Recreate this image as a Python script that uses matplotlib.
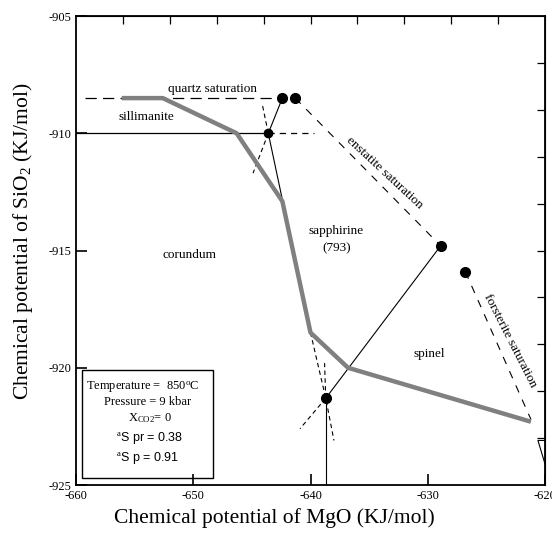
import matplotlib
matplotlib.use("Agg")
import matplotlib.pyplot as plt
from matplotlib.patches import Rectangle

plt.rcParams['font.family'] = ['Liberation Serif', 'DejaVu Serif']
plt.rcParams['mathtext.fontset'] = 'custom'
plt.rcParams['mathtext.rm'] = 'Liberation Serif'
plt.rcParams['mathtext.it'] = 'Liberation Serif:italic'
plt.rcParams['axes.unicode_minus'] = False

# grey reaction path (sapphirine field boundary)
grey_x = [-656.1, -652.6, -646.3, -642.4, -640.0, -636.8, -621.2]
grey_y = [-908.5, -908.5, -910.0, -912.9, -918.5, -920.0, -922.3]

# invariant points
pts_x = [-642.4, -641.3, -628.9, -626.8, -638.7]
pts_y = [-908.5, -908.5, -914.8, -915.9, -921.3]
open_x = -643.6
open_y = -910.0

# saturation lines
quartz_x = [-659.2, -642.4]
quartz_y = [-908.5, -908.5]
sill_x = [-660.0, -643.6]
sill_y = [-910.0, -910.0]
sill_dash_x = [-643.6, -639.7]
sill_dash_y = [-910.0, -910.0]
enst_x = [-641.3, -628.9]
enst_y = [-908.5, -914.8]
fors_x = [-626.8, -621.2]
fors_y = [-915.9, -922.2]

# thin solid reaction lines
solid_segs = [
    ([-643.6, -642.4], [-910.0, -908.5]),
    ([-643.6, -640.0], [-910.0, -918.5]),
    ([-638.7, -628.9], [-921.3, -914.8]),
    ([-638.7, -638.7], [-925.0, -921.3]),
    ([-620.0, -620.6, -620.0], [-923.1, -923.1, -924.1]),
]
# thin dashed (metastable) extensions
dash_segs = [
    ([-640.0, -638.7, -638.0], [-918.5, -921.3, -923.1]),
    ([-643.6, -644.1], [-910.0, -908.8]),
    ([-643.6, -644.9], [-910.0, -911.7]),
    ([-638.7, -640.9], [-921.3, -922.6]),
    ([-638.7, -638.8], [-921.3, -919.8]),
]

fig = plt.figure(figsize=(5.52, 5.36), dpi=100)
ax = fig.add_axes([0.1377, 0.0951, 0.8496, 0.875])

ax.plot(quartz_x, quartz_y, color='black', lw=0.9, dashes=(9, 5))
ax.plot(sill_x, sill_y, color='black', lw=0.9)
ax.plot(sill_dash_x, sill_dash_y, color='black', lw=0.9, dashes=(5, 4))
ax.plot(enst_x, enst_y, color='black', lw=0.8, dashes=(7, 7))
ax.plot(fors_x, fors_y, color='black', lw=0.8, dashes=(7, 7))
for sx, sy in solid_segs:
    ax.plot(sx, sy, color='black', lw=0.8)
for sx, sy in dash_segs:
    ax.plot(sx, sy, color='black', lw=0.8, dashes=(4, 3))

ax.plot(grey_x, grey_y, color='#808080', lw=3.2, solid_capstyle='butt', zorder=3)

ax.plot(pts_x, pts_y, 'o', color='black', ms=7, zorder=4)
ax.plot([open_x], [open_y], 'o', color='black', ms=6, mfc='black', mew=1, zorder=4)

# field labels
fs = 9.5
ax.text(-648.4, -908.1, 'quartz saturation', fontsize=fs, ha='center', va='center')
ax.text(-654.0, -909.3, 'sillimanite', fontsize=fs, ha='center', va='center')
ax.text(-650.3, -915.2, 'corundum', fontsize=fs, ha='center', va='center')
ax.text(-637.8, -914.15, 'sapphirine', fontsize=fs, ha='center', va='center')
ax.text(-637.8, -914.9, '(793)', fontsize=fs, ha='center', va='center')
ax.text(-629.9, -919.4, 'spinel', fontsize=fs, ha='center', va='center')
ax.text(-633.7, -911.7, 'enstatite saturation', fontsize=fs, ha='center', va='center',
        rotation=-43, rotation_mode='anchor')
ax.text(-623.0, -918.85, 'forsterite saturation', fontsize=fs, ha='center', va='center',
        rotation=-63, rotation_mode='anchor')

# conditions box
ax.add_patch(Rectangle((-659.5, -924.7), 11.2, 4.6, fill=False, lw=1.0, ec='black', zorder=5))
ax.text(-654.3, -920.85, r'Temperature =  850$^{\rm o}$C', fontsize=9, ha='center', va='center')
ax.text(-653.9, -921.45, 'Pressure = 9 kbar', fontsize=9, ha='center', va='center')
ax.text(-653.7, -922.15, r'X$_{\rm CO2}$= 0', fontsize=9, ha='center', va='center')
ax.text(-653.7, -923.0, r'$^{\rm a}$S pr = 0.38', fontsize=9, ha='center', va='center',
        family=['Liberation Sans'])
ax.text(-653.9, -923.85, r'$^{\rm a}$S p = 0.91', fontsize=9, ha='center', va='center',
        family=['Liberation Sans'])

ax.set_xlim(-660, -620)
ax.set_ylim(-925, -905)
ax.set_xticks([-660, -650, -640, -630, -620])
ax.set_yticks([-925, -920, -915, -910, -905])
ax.tick_params(direction='in', length=8, width=1.2, labelsize=9)
for sp in ax.spines.values():
    sp.set_linewidth(1.3)

# unlabelled ticks on top and right
top = ax.secondary_xaxis('top')
top.set_xticks(list(range(-656, -620, 4)))
top.tick_params(direction='in', length=6, width=0.9, labeltop=False)
right = ax.secondary_yaxis('right')
right.set_yticks(list(range(-923, -905, 2)))
right.tick_params(direction='in', length=6, width=0.9, labelright=False)

ax.set_xlabel('Chemical potential of MgO (KJ/mol)', fontsize=15.5)
ax.set_ylabel(r'Chemical potential of SiO$_2$ (KJ/mol)', fontsize=15.5)
ax.xaxis.set_label_coords(0.424, -0.05)
ax.yaxis.set_label_coords(-0.088, 0.52)

fig.savefig('out.png', dpi=100)
